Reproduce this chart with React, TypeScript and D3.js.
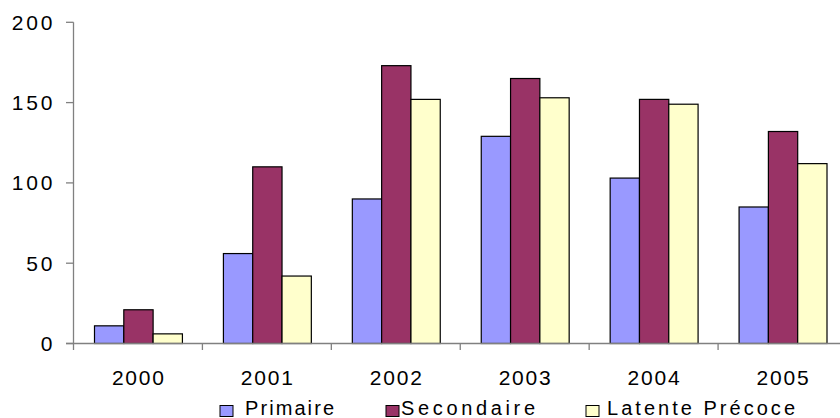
import React from "react";
import * as d3 from "d3";

const years = ["2000", "2001", "2002", "2003", "2004", "2005"];
const seriesNames = ["Primaire", "Secondaire", "Latente Précoce"];
const primaire = [11, 56, 90, 129, 103, 85];
const secondaire = [21, 110, 173, 165, 152, 132];
const latente = [6, 42, 152, 153, 149, 112];
const yTicks = [0, 50, 100, 150, 200];
const colors = ["#9999FF", "#993366", "#FFFFCC"];

const W = 840;
const H = 418;
const FONT = "'Liberation Sans', Arial, sans-serif";

export default function App() {
  const values = [primaire, secondaire, latente];
  const x0 = d3.scaleBand<string>().domain(years).range([73.5, 847]).paddingInner(0).paddingOuter(0);
  const bw = x0.bandwidth();
  const x1 = d3.scaleBand<number>().domain([0, 1, 2]).range([21, bw - 20]);
  const y = d3.scaleLinear().domain([0, 200]).range([343.5, 22.3]);
  const axisColor = "#808080";

  const legendItems = [
    { sq: 220, tx: 245, len: 89 },
    { sq: 386, tx: 401, len: 134 },
    { sq: 586, tx: 607, len: 188 },
  ];

  return (
    <svg width={W} height={H} style={{ position: "absolute", left: 0, top: 0, background: "#fff" }}>
      <rect width={W} height={H} fill="#fff" />
      {years.map((yr, i) => (
        <g key={yr} transform={`translate(${x0(yr)},0)`}>
          {values.map((vals, s) => (
            <rect
              key={s}
              x={x1(s)!}
              y={y(vals[i])}
              width={x1.bandwidth()}
              height={y(0) - y(vals[i])}
              fill={colors[s]}
              stroke="#000"
              strokeWidth={1.2}
            />
          ))}
        </g>
      ))}
      <line x1={73.5} x2={73.5} y1={y(200)} y2={350} stroke={axisColor} strokeWidth={1.3} />
      {yTicks.map((t) => (
        <g key={t}>
          <line x1={66} x2={73.5} y1={y(t)} y2={y(t)} stroke={axisColor} strokeWidth={1.3} />
          <text
            x={52.5 + 2.8}
            y={y(t)}
            dy="0.36em"
            textAnchor="end"
            fontFamily={FONT}
            fontSize={21}
            letterSpacing={2.8}
            fill="#000"
          >
            {t}
          </text>
        </g>
      ))}
      <line x1={66} x2={W} y1={y(0)} y2={y(0)} stroke={axisColor} strokeWidth={1.3} />
      {years.map((yr) => (
        <g key={yr}>
          <line x1={x0(yr)! + bw} x2={x0(yr)! + bw} y1={y(0)} y2={350} stroke={axisColor} strokeWidth={1.3} />
          <text
            x={x0(yr)! + bw / 2 + 0.9}
            y={385}
            textAnchor="middle"
            fontFamily={FONT}
            fontSize={21}
            letterSpacing={1.8}
            fill="#000"
          >
            {yr}
          </text>
        </g>
      ))}
      {seriesNames.map((name, s) => (
        <g key={name}>
          <rect x={legendItems[s].sq} y={405.5} width={13} height={11} fill={colors[s]} stroke="#000" strokeWidth={1} />
          <text
            x={legendItems[s].tx}
            y={415}
            fontFamily={FONT}
            fontSize={20}
            textLength={legendItems[s].len}
            lengthAdjust="spacing"
            fill="#000"
          >
            {name}
          </text>
        </g>
      ))}
    </svg>
  );
}
